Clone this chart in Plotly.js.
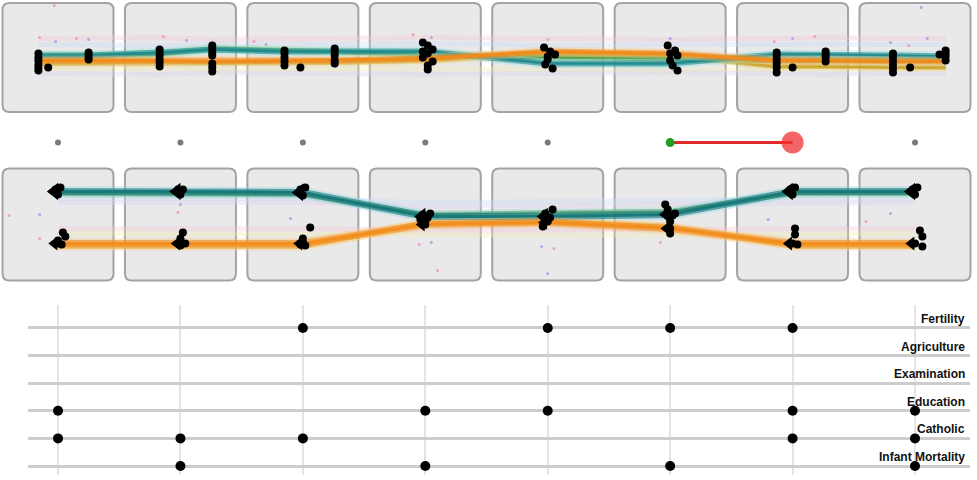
<!DOCTYPE html>
<html><head><meta charset="utf-8">
<script src="https://cdn.plot.ly/plotly-3.0.1.min.js"></script>
<style>html,body{margin:0;padding:0;background:#fff}#chart{width:977px;height:480px}</style>
</head><body><div id="chart"></div>
<script>
// ---------- data ----------
const models = [1, 2, 3, 4, 5, 6, 7, 8];
const variables = ['Fertility', 'Agriculture', 'Examination', 'Education', 'Catholic', 'Infant Mortality'];
// membership of each variable (rows) in each model (columns)
const inFertility   = [0, 0, 1, 0, 1, 1, 1, 0];
const inAgriculture = [0, 0, 0, 0, 0, 0, 0, 0];
const inExamination = [0, 0, 0, 0, 0, 0, 0, 0];
const inEducation   = [1, 0, 0, 1, 1, 0, 1, 1];
const inCatholic    = [1, 1, 1, 0, 0, 0, 1, 1];
const inInfantMort  = [0, 1, 0, 1, 0, 1, 0, 1];

// selection strip: transition from model 6 to model 7
const stripFrom = 6;
const stripTo = 7;

// top row: node positions (in model units) and series values
const topNodeX   = [0.84, 1.25, 1.83, 2.26, 2.85, 3.26, 4.02, 5.0, 6.0, 6.87, 7.27, 7.82, 8.25];
const topTeal    = [0.2, 0.2, 0.5, 0.8, 0.6, 0.6, 0.6, -0.6, -0.6, 0.3, 0.3, 0.2, 0.1];
const topGreen   = [0.2, 0.2, 0.3, 0.9, 0.7, 0.6, 0.2, 0.0, -0.1, -0.3, -0.3, -0.3, -0.3];
const topOrange  = [-0.3, -0.3, -0.3, -0.4, -0.3, -0.3, -0.1, 0.6, 0.4, -0.3, -0.3, -0.4, -0.4];
const topGold    = [-0.6, -0.6, -0.5, -0.6, -0.5, -0.5, -0.3, 0.4, 0.2, -0.9, -0.9, -1.0, -1.0];
const topPaleBlue   = [1.3, 1.3, 1.2, 1.4, 1.3, 1.3, 1.4, 1.2, 1.3, 1.3, 1.2, 1.3, 1.3];
const topPalePink   = [1.9, 1.9, 2.0, 1.8, 1.9, 1.9, 2.0, 1.9, 1.8, 1.9, 2.0, 1.9, 1.9];
const topPaleYellow = [-1.2, -1.2, -1.1, -1.3, -1.2, -1.2, -1.1, -1.2, -1.3, -1.2, -1.1, -1.2, -1.2];
const topPaleLav    = [-1.6, -1.6, -1.7, -1.5, -1.6, -1.6, -1.7, -1.6, -1.5, -1.6, -1.7, -1.6, -1.6];
const topDotX = [0.84, 0.84, 0.84, 0.84, 0.84, 0.84, 0.92, 1.25, 1.25, 1.25, 1.25,
                 1.83, 1.83, 1.83, 1.83, 1.83, 1.83, 2.26, 2.26, 2.26, 2.26, 2.26, 2.26, 2.26,
                 2.85, 2.85, 2.85, 2.85, 2.85, 2.98, 3.26, 3.26, 3.26, 3.26, 3.26,
                 3.98, 4.02, 4.06, 4.02, 3.98, 4.06, 4.02, 4.02, 3.98,
                 4.97, 5.02, 5.06, 5.0, 4.98, 5.04, 5.0,
                 5.98, 6.04, 6.06, 6.0, 6.02, 6.06, 6.0,
                 6.87, 6.87, 6.87, 6.87, 6.87, 6.87, 7.0, 7.27, 7.27, 7.27, 7.27,
                 7.82, 7.82, 7.82, 7.82, 7.82, 7.82, 7.96, 8.25, 8.25, 8.25, 8.25, 8.2];
const topDotY = [0.4, 0.0, -0.3, -0.7, -1.0, -1.3, -1.0, 0.5, 0.3, 0.0, -0.2,
                 0.8, 0.5, 0.2, -0.2, -0.5, -0.9, 1.2, 0.9, 0.5, 0.2, -0.6, -1.0, -1.4,
                 0.7, 0.4, 0.0, -0.4, -0.8, -1.0, 0.9, 0.6, 0.2, -0.3, -0.6,
                 1.5, 1.2, 0.8, 0.4, 0.0, -0.4, -0.8, -1.2, 0.6,
                 1.0, 0.6, 0.3, -0.2, -0.7, -1.1, 0.1,
                 1.2, 0.7, 0.2, -0.3, -0.8, -1.3, 0.4,
                 0.5, 0.2, -0.2, -0.6, -1.0, -1.5, -1.0, 0.6, 0.3, 0.0, -0.4,
                 0.4, 0.1, -0.3, -0.7, -1.1, -1.5, -1.0, 0.7, 0.4, 0.1, -0.3, 0.3];
const topLabelX = [0.85, 0.98, 1.15, 1.25, 1.86, 2.05, 2.6, 2.7, 3.9, 4.05, 5.0, 6.0, 6.85, 7.0, 7.18, 7.8, 7.95, 8.1, 0.97, 8.05];
const topLabelY = [2.0, 1.6, 1.9, 1.8, 2.1, 1.7, 1.6, 1.3, 2.3, 2.0, 1.8, 1.9, 1.6, 1.9, 2.1, 1.5, 1.2, 1.9, 5.2, 5.0];

// middle row: series values at each model
const midTeal    = [3.3, 3.3, 3.2, 0.8, 0.8, 1.0, 3.3, 3.3];
const midGreen   = [3.1, 3.1, 3.0, 1.0, 1.2, 1.3, 3.1, 3.1];
const midOrange  = [-1.9, -1.9, -1.9, 0.0, 0.2, -0.4, -1.9, -1.9];
const midGold    = [-2.2, -2.2, -2.2, 0.2, 0.4, -0.2, -2.2, -2.2];
const midPaleBlue   = [2.6, 2.6, 2.6, 2.2, 2.3, 2.4, 2.6, 2.6];
const midPaleLav    = [2.2, 2.2, 2.2, 1.8, 1.9, 2.0, 2.2, 2.2];
const midPalePink   = [-0.4, -0.4, -0.4, -0.6, -0.6, -0.5, -0.4, -0.4];
const midPaleYellow = [-0.9, -0.9, -0.9, -1.0, -1.1, -1.0, -0.9, -0.9];
const midDotX = [0.98, 1.02, 1.0, 1.0, 1.03, 1.04, 1.06, 1.0,
                 1.98, 2.02, 2.0, 2.0, 2.0, 2.02, 2.0, 2.04,
                 2.98, 3.02, 3.0, 3.0, 2.98, 3.06, 3.0, 3.02,
                 3.98, 4.02, 4.0, 4.04, 3.96, 4.0,
                 4.98, 5.02, 5.0, 5.04, 4.96, 5.0,
                 5.98, 6.02, 6.0, 6.0, 6.04, 5.96, 6.0,
                 6.98, 7.02, 7.0, 7.02, 7.02, 7.0, 7.04,
                 7.98, 8.02, 8.0, 8.04, 8.06, 8.0, 8.06];
const midDotY = [3.5, 3.7, 3.0, -1.6, -2.0, -0.8, -1.2, -1.9,
                 3.5, 3.5, 3.0, -1.9, -1.4, -0.8, -2.1, -1.9,
                 3.5, 3.7, 2.9, -1.8, -2.0, -0.3, -1.4, -2.1,
                 1.0, 0.7, 0.3, 1.1, 0.5, 0.0,
                 1.1, 0.7, 0.3, 1.5, -0.2, 0.6,
                 1.5, 0.9, 0.3, -0.4, 1.1, 2.0, -0.9,
                 3.5, 3.7, 3.0, -0.4, -1.0, -1.9, -2.0,
                 3.5, 3.7, 3.0, -0.6, -1.2, -1.9, -2.2];
const midLabelX = [0.6, 0.85, 0.85, 2.0, 1.98, 2.9, 3.95, 4.05, 4.1, 4.95, 5.05, 5.0, 5.92, 6.8, 7.6, 7.8];
const midLabelY = [0.9, 1.0, -1.4, 2.0, 1.2, 0.6, -2.0, -1.8, -4.6, -2.2, -2.4, -4.9, -1.8, 0.5, 0.3, 1.1];

// ---------- build ----------
const traces = [];
function bundle(x, y, yaxis, color, halo, wide, thin) {
  traces.push({x: x, y: y, yaxis: yaxis, mode: 'lines', line: {color: halo, width: wide + 4}, opacity: 0.35, hoverinfo: 'skip'});
  traces.push({x: x, y: y, yaxis: yaxis, mode: 'lines', line: {color: color, width: wide}, opacity: 0.6, hoverinfo: 'skip'});
  traces.push({x: x, y: y, yaxis: yaxis, mode: 'lines', line: {color: color, width: thin}, opacity: 0.95, hoverinfo: 'skip'});
}
function pale(x, y, yaxis, color) {
  traces.push({x: x, y: y, yaxis: yaxis, mode: 'lines', line: {color: color, width: 5}, opacity: 0.35, hoverinfo: 'skip'});
}
const labelColors = n => Array.from({length: n}, (_, i) => (i % 2 ? '#b9a3e6' : '#eaa3c3'));
// top row
pale(topNodeX, topPalePink, 'y', '#f5c6d6');
pale(topNodeX, topPaleBlue, 'y', '#c9ddf5');
pale(topNodeX, topPaleYellow, 'y', '#f3eab0');
pale(topNodeX, topPaleLav, 'y', '#ddd0f0');
bundle(topNodeX, topGold, 'y', '#c9a227', '#f0e090', 5, 2);
bundle(topNodeX, topGreen, 'y', '#4e9a3c', '#a8e0a0', 5, 2);
bundle(topNodeX, topTeal, 'y', '#1f8a8c', '#8fe0e8', 6, 2.5);
bundle(topNodeX, topOrange, 'y', '#f08a1a', '#fbc98a', 6, 3);
traces.push({x: topLabelX, y: topLabelY, yaxis: 'y', mode: 'markers', marker: {size: 3, color: labelColors(topLabelX.length)}, hoverinfo: 'skip'});
traces.push({x: topDotX, y: topDotY, yaxis: 'y', mode: 'markers', marker: {size: 8, color: '#000'}, hoverinfo: 'skip'});

// middle row
pale(models, midPaleBlue, 'y2', '#c9ddf5');
pale(models, midPaleLav, 'y2', '#ddd0f0');
pale(models, midPalePink, 'y2', '#f5c6d6');
pale(models, midPaleYellow, 'y2', '#f3eab0');
bundle(models, midGold, 'y2', '#e8a030', '#f8d890', 5, 2);
bundle(models, midGreen, 'y2', '#3f8f3f', '#a0d8c8', 5, 2);
bundle(models, midTeal, 'y2', '#16787a', '#90d8e8', 7, 3);
bundle(models, midOrange, 'y2', '#f28c1c', '#fbc070', 7, 3);
traces.push({x: midLabelX, y: midLabelY, yaxis: 'y2', mode: 'markers', marker: {size: 3, color: labelColors(midLabelX.length)}, hoverinfo: 'skip'});
traces.push({x: midDotX, y: midDotY, yaxis: 'y2', mode: 'markers', marker: {size: 8, color: '#000'}, hoverinfo: 'skip'});
traces.push({x: models.map(m => m - 0.03), y: midTeal, yaxis: 'y2', mode: 'markers', marker: {size: 15, symbol: 'triangle-left', color: '#000'}, hoverinfo: 'skip'});
traces.push({x: models.map(m => m - 0.03), y: midOrange, yaxis: 'y2', mode: 'markers', marker: {size: 12, symbol: 'triangle-left', color: '#000'}, hoverinfo: 'skip'});

// selection strip
const greyModels = models.filter(m => m !== stripFrom && m !== stripTo);
traces.push({x: greyModels, y: greyModels.map(() => 0), yaxis: 'y3', mode: 'markers', marker: {size: 6, color: '#7a7a7a'}, hoverinfo: 'skip'});
traces.push({x: [stripFrom, stripTo], y: [0, 0], yaxis: 'y3', mode: 'lines', line: {color: '#e02a2a', width: 3}, hoverinfo: 'skip'});
traces.push({x: [stripTo], y: [0], yaxis: 'y3', mode: 'markers', marker: {size: 22, color: 'rgba(240,50,50,0.75)'}, hoverinfo: 'skip'});
traces.push({x: [stripFrom], y: [0], yaxis: 'y3', mode: 'markers', marker: {size: 9, color: '#1f9e1f'}, hoverinfo: 'skip'});

// membership matrix
const member = [inFertility, inAgriculture, inExamination, inEducation, inCatholic, inInfantMort];
const mx = [], my = [];
member.forEach((row, i) => row.forEach((v, j) => { if (v) { mx.push(models[j]); my.push(variables[i]); } }));
traces.push({x: mx, y: my, xaxis: 'x2', yaxis: 'y4', mode: 'markers', marker: {size: 10, color: '#000'}, hoverinfo: 'skip'});

// panels
function rrect(a, b, r) {
  return `M ${-a + r},${-b} L ${a - r},${-b} Q ${a},${-b} ${a},${-b + r} L ${a},${b - r} Q ${a},${b} ${a - r},${b} L ${-a + r},${b} Q ${-a},${b} ${-a},${b - r} L ${-a},${-b + r} Q ${-a},${-b} ${-a + r},${-b} Z`;
}
const shapes = [];
models.forEach(m => {
  shapes.push({type: 'path', xref: 'x', yref: 'y', xsizemode: 'pixel', ysizemode: 'pixel', xanchor: m, yanchor: 0,
    path: rrect(55.5, 54.5, 7), fillcolor: '#e9e9e9', line: {color: '#a3a3a3', width: 2}, layer: 'below'});
  shapes.push({type: 'path', xref: 'x', yref: 'y2', xsizemode: 'pixel', ysizemode: 'pixel', xanchor: m, yanchor: 0,
    path: rrect(55.5, 56, 7), fillcolor: '#e9e9e9', line: {color: '#a3a3a3', width: 2}, layer: 'below'});
});

const annotations = variables.map(v => ({
  text: v, xref: 'paper', x: 0.9898, xanchor: 'right', yref: 'y4', y: v, yanchor: 'bottom', yshift: 0,
  showarrow: false, font: {family: 'Liberation Sans, Arial, sans-serif', size: 12, color: '#111', weight: 'bold'}
}));

const hidden = {visible: false, showgrid: false, zeroline: false, fixedrange: true};
const layout = {
  width: 977, height: 480, margin: {l: 0, r: 0, t: 0, b: 0},
  paper_bgcolor: '#fff', plot_bgcolor: 'rgba(0,0,0,0)', showlegend: false,
  xaxis: Object.assign({}, hidden, {range: [0.5263, 8.5063], domain: [0, 1], anchor: 'y'}),
  yaxis: Object.assign({}, hidden, {range: [-5.75, 5.75], domain: [0.7604, 1], anchor: 'x'}),
  yaxis2: Object.assign({}, hidden, {range: [-5.95, 5.95], domain: [0.4083, 0.6563], anchor: 'x'}),
  yaxis3: Object.assign({}, hidden, {range: [-1, 1], domain: [0.677, 0.729], anchor: 'x'}),
  xaxis2: {range: [0.755, 8.449], domain: [0.0287, 0.9928], anchor: 'y4', showgrid: true, gridcolor: '#e4e4e4', gridwidth: 2,
    tickvals: models, showticklabels: false, ticks: '', zeroline: false, showline: false, fixedrange: true},
  yaxis4: {type: 'category', categoryarray: variables, range: [5.326, -0.833], domain: [0.0104, 0.3646], anchor: 'x2',
    showgrid: true, gridcolor: '#cdcdcd', gridwidth: 3, showticklabels: false, ticks: '', zeroline: false, showline: false, fixedrange: true},
  shapes: shapes, annotations: annotations
};
Plotly.newPlot('chart', traces, layout, {staticPlot: true, displayModeBar: false});
</script></body></html>
